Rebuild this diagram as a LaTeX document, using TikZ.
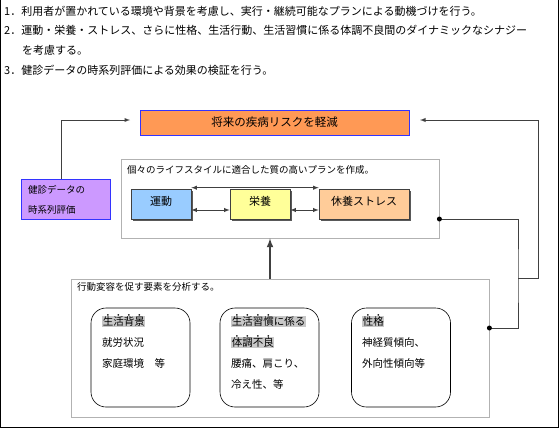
\documentclass[tikz,border=0pt]{standalone}
\usepackage{fontspec}
\setmainfont{Noto Sans CJK JP}
\usetikzlibrary{positioning,shadows}
\definecolor{goalfill}{HTML}{FF9955}
\definecolor{datafill}{HTML}{CC99FF}
\definecolor{edgeblue}{HTML}{3333FF}
\definecolor{movefill}{HTML}{99CCFF}
\definecolor{foodfill}{HTML}{FFFF99}
\definecolor{restfill}{HTML}{FFCC99}
\definecolor{hlgray}{HTML}{C8C8C8}
\definecolor{linkgray}{HTML}{404040}
\makeatletter
\newcommand\bouten[1]{\@tfor\bt@c:=#1\do{\makebox[0pt][l]{\raisebox{0.88em}[0pt][0pt]{\makebox[1em]{\scalebox{0.4}{$\bullet$}}}}\bt@c}}
\makeatother
\newcommand\hlword[1]{{\setlength{\fboxsep}{0.6pt}\colorbox{hlgray}{#1}}}
\newcommand\ptsize[1]{\fontsize{#1}{#1}\selectfont}
\begin{document}
\begin{tikzpicture}[
    x=1pt,y=-1pt,
    goal/.style={draw=edgeblue,fill=goalfill,line width=0.8pt,minimum width=269pt,minimum height=25pt,inner sep=0pt,font=\ptsize{11.5}},
    datanote/.style={draw=edgeblue,fill=datafill,line width=0.8pt,minimum width=89pt,minimum height=40pt},
    panel/.style={draw=gray!60,line width=0.8pt,fill=white,inner sep=0pt},
    factor/.style={draw=linkgray,line width=0.6pt,minimum height=30pt,inner sep=0pt,text height=8pt,text depth=6pt,font=\ptsize{11},drop shadow={shadow xshift=2.2pt,shadow yshift=-2.2pt,fill=black!65,opacity=1}},
    element/.style={draw=black,line width=0.6pt,rounded corners=15pt,minimum width=99pt,minimum height=99pt},
    note/.style={inner sep=0pt,align=left},
    link/.style={draw=linkgray,line width=0.9pt},
    >=latex
]
    \useasboundingbox (0,0) rectangle (559,429);
    \draw[line width=1.2pt] (0.6,0) -- (0.6,427.4) -- (558.4,427.4) -- (558.4,0);

    % Aims
    \node[note,anchor=west,font=\ptsize{11}] (aim1) at (4,11) {1．利用者が置かれている環境や背景を考慮し、実行・継続可能なプランによる動機づけを行う。};
    \node[note,anchor=west,font=\ptsize{11}] (aim2) at (4,30) {2．運動・栄養・ストレス、さらに性格、生活行動、生活習慣に係る体調不良間のダイナミックなシナジー};
    \node[note,anchor=west,font=\ptsize{11}] (aim2b) at (22,50) {を考慮する。};
    \node[note,anchor=west,font=\ptsize{11}] (aim3) at (4,70) {3．健診データの時系列評価による効果の検証を行う。};

    % Goal and data
    \node[goal] (goal) at (274.5,122.5) {将来の疾病リスクを軽減};
    \node[datanote] (data) at (65.5,199) {};
    \node[note,anchor=north west,font=\fontsize{9.5}{20}\selectfont] (datatext) at (28,185) {健診データの\\時系列評価};

    % Plan
    \node[panel,minimum width=318pt,minimum height=79pt] (plan) at (280,198.5) {};
    \node[note,anchor=west,font=\ptsize{9.5}] (plantitle) at (127,170) {個々のライフスタイルに適合した質の高いプランを作成。};
    \node[factor,fill=movefill,minimum width=60pt] (move) at (161,204) {運動};
    \node[factor,fill=foodfill,minimum width=60pt] (food) at (260,204) {栄養};
    \node[factor,fill=restfill,minimum width=90pt] (rest) at (364,204) {休養ストレス};

    % Analysis
    \node[panel,minimum width=418pt,minimum height=138pt] (analysis) at (280,348) {};
    \node[note,anchor=west,font=\ptsize{9.5}] (analysistitle) at (77,287) {行動変容を促す要素を分析する。};
    \node[element] (life) at (140.5,357.5) {};
    \node[element] (habit) at (269.5,357.5) {};
    \node[element] (trait) at (401,357.5) {};
    \node[note,anchor=north west,font=\fontsize{10.5}{21}\selectfont] (lifetext) at (102,316) {\hlword{\bouten{生活背景}}\\就労状況\\家庭環境　等};
    \node[note,anchor=north west,font=\fontsize{10.5}{21}\selectfont] (habittext) at (231,316) {\hlword{\bouten{生活習慣}に係る}\\\hlword{\bouten{体調不良}}\\腰痛、肩こり、\\冷え性、等};
    \node[note,anchor=north west,font=\fontsize{10.5}{21}\selectfont] (traittext) at (362,316) {\hlword{\bouten{性格}}\\神経質傾向、\\外向性傾向等};

    % Connectors
    \coordinate (pdot) at ([yshift=-20.5pt]plan.east);
    \coordinate (adot) at ([yshift=20pt]analysis.east);
    \coordinate (jn) at (518,278);
    \coordinate (rc) at (538,120);
    \coordinate (goalin) at (420,120);
    \coordinate (goalinl) at (130,120);
    \draw[link,<->] ([yshift=-6pt]move.east) -- ([yshift=-6pt]food.west);
    \draw[link,<->] ([yshift=-6pt]food.east) -- ([yshift=-6pt]rest.west);
    \draw[link,<->] ([yshift=1pt]move.north east) -- ([yshift=1pt]rest.north west);
    \draw[link,line width=2pt,->] ([xshift=-10pt]analysis.north) -- ([xshift=-10pt]plan.south);
    \draw[link] (adot) -| (jn) |- (pdot);
    \draw[link,->] (jn) -| (rc) -- (goalin);
    \draw[link,->] ([xshift=-4.5pt]data.north) |- (goalinl);
    \fill[black] (pdot) circle (2.5pt);
    \fill[black] (adot) circle (2.5pt);
\end{tikzpicture}
\end{document}
